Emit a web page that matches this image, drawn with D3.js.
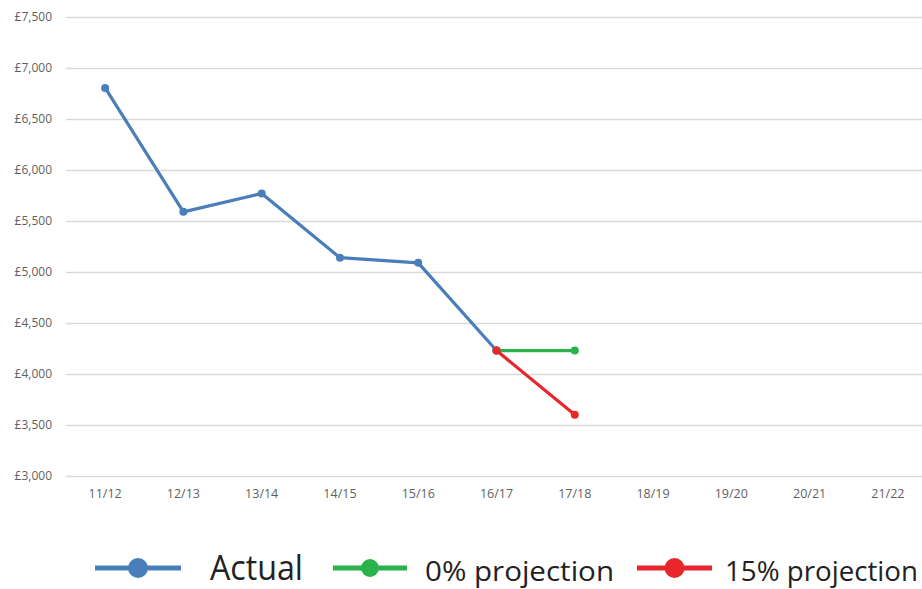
<!DOCTYPE html>
<html>
<head>
<meta charset="utf-8">
<script src="https://cdnjs.cloudflare.com/ajax/libs/d3/7.8.5/d3.min.js"></script>
<style>
  html, body { margin: 0; padding: 0; background: #fff; }
  svg { display: block; }
</style>
</head>
<body>
<svg id="chart" width="922" height="589"></svg>
<script>
///// *** DATA *** /////
var years = ['11/12', '12/13', '13/14', '14/15', '15/16', '16/17', '17/18', '18/19', '19/20', '20/21', '21/22'],
    actualYears = ['11/12', '12/13', '13/14', '14/15', '15/16', '16/17'],
    actualValues = [6805, 5590, 5770, 5140, 5090, 4230],
    projYears = ['16/17', '17/18'],
    zeroProjValues = [4230, 4230],
    fifteenProjValues = [4230, 3600],
    yTicks = [3000, 3500, 4000, 4500, 5000, 5500, 6000, 6500, 7000, 7500],
    legendLabels = ['Actual', '0% projection', '15% projection'];

var blue = '#4a7ebb',
    green = '#2bb24c',
    red = '#e8262b',
    svg = d3.select('#chart');

///// *** SCALES *** /////
var x = d3.scaleBand().domain(years).range([66, 927]);
var y = d3.scaleLinear().domain([3000, 7500]).range([476, 17]);
function cx(d) { return x(d) + x.bandwidth() / 2; }

///// *** GRID + AXES *** /////
var yAxis = d3.axisLeft(y)
  .tickValues(yTicks)
  .tickSize(-(922 - 66))
  .tickPadding(14)
  .tickFormat(function(d) { return '£' + d3.format(',')(d); });

var gy = svg.append('g')
  .attr('transform', 'translate(66,0)')
  .call(yAxis);
gy.select('.domain').remove();
gy.selectAll('line').attr('stroke', '#d9d9d9').attr('stroke-width', 1.3);
gy.selectAll('text')
  .attr('fill', '#5f5f5f')
  .style('font-family', '"Open Sans", sans-serif')
  .style('font-size', '12px');

var xAxis = d3.axisBottom(x).tickSize(0).tickPadding(13);
var gx = svg.append('g')
  .attr('transform', 'translate(0,476)')
  .call(xAxis);
gx.select('.domain').remove();
gx.selectAll('text')
  .attr('fill', '#5f5f5f')
  .style('font-family', '"Open Sans", sans-serif')
  .style('font-size', '12.5px');

///// *** SERIES *** /////
function drawSeries(cats, vals, color) {
  var pts = cats.map(function(c, i) { return [cx(c), y(vals[i])]; });
  svg.append('path')
    .attr('d', d3.line()(pts))
    .attr('fill', 'none')
    .attr('stroke', color)
    .attr('stroke-width', 3.2)
    .attr('stroke-linejoin', 'round');
  svg.append('g').selectAll('circle')
    .data(pts)
    .enter().append('circle')
    .attr('cx', function(d) { return d[0]; })
    .attr('cy', function(d) { return d[1]; })
    .attr('r', 4)
    .attr('fill', color);
}

drawSeries(actualYears, actualValues, blue);
drawSeries(projYears, zeroProjValues, green);
drawSeries(projYears, fifteenProjValues, red);

///// *** LEGEND *** /////
var legendItems = [
  { label: legendLabels[0], color: blue,  x1: 95,  x2: 181, r: 10, tx: 210, size: 35, len: 93 },
  { label: legendLabels[1], color: green, x1: 333, x2: 407, r: 9,  tx: 425, size: 27, len: 189 },
  { label: legendLabels[2], color: red,   x1: 637, x2: 712, r: 10, tx: 725, size: 27, len: 193 }
];

var lg = svg.append('g').selectAll('g')
  .data(legendItems)
  .enter().append('g');

lg.append('line')
  .attr('x1', function(d) { return d.x1; })
  .attr('x2', function(d) { return d.x2; })
  .attr('y1', 568).attr('y2', 568)
  .attr('stroke', function(d) { return d.color; })
  .attr('stroke-width', 5);

lg.append('circle')
  .attr('cx', function(d) { return (d.x1 + d.x2) / 2; })
  .attr('cy', 568)
  .attr('r', function(d) { return d.r; })
  .attr('fill', function(d) { return d.color; });

lg.append('text')
  .attr('x', function(d) { return d.tx; })
  .attr('y', function(d) { return d.label === 'Actual' ? 580 : 581; })
  .attr('textLength', function(d) { return d.len; })
  .attr('lengthAdjust', 'spacingAndGlyphs')
  .attr('fill', '#222')
  .style('font-family', '"Open Sans", sans-serif')
  .style('font-size', function(d) { return d.size + 'px'; })
  .text(function(d) { return d.label; });
</script>
</body>
</html>
